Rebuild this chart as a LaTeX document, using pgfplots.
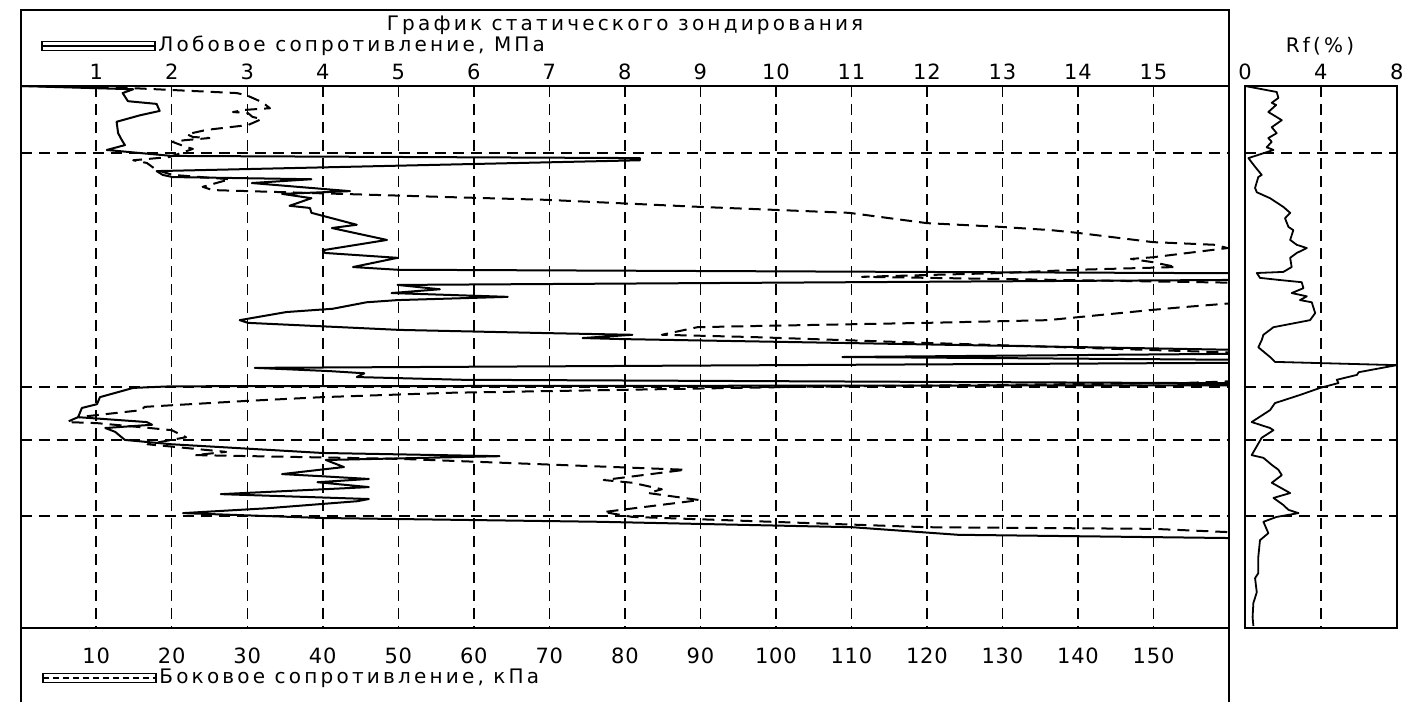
\documentclass[border=0pt]{standalone}
\usepackage{pgfplots}
\usepackage{pgfplotstable}
\pgfplotsset{compat=1.18}
\usepackage{fontspec}
\setmainfont{DejaVu Sans}[LetterSpace=16]
\newfontfamily\tickfont{DejaVu Sans}[LetterSpace=4]

\pgfplotstableread{
q d
0 0
1.49 0.06
1.35 0.13
1.42 0.28
1.80 0.33
1.84 0.46
1.58 0.54
1.27 0.66
1.29 0.87
1.34 1.00
1.38 1.09
1.14 1.18
2.00 1.29
8.20 1.33
8.20 1.37
1.80 1.57
1.88 1.64
2.01 1.68
3.85 1.72
3.06 1.79
4.36 1.94
3.46 1.99
3.85 2.07
3.56 2.21
3.83 2.25
3.85 2.34
4.45 2.56
4.12 2.62
4.85 2.84
4.00 3.03
4.03 3.08
4.99 3.17
4.40 3.34
4.99 3.39
17 3.46
17 3.57
4.99 3.67
5.55 3.75
4.91 3.82
6.45 3.89
4.99 3.95
4.58 3.99
4.13 4.11
3.52 4.17
2.90 4.32
3.01 4.37
5.02 4.50
7.00 4.56
8.10 4.59
7.44 4.65
7.99 4.67
17 4.89
17 4.93
10.88 5.00
17 5.06
17 5.10
3.10 5.20
4.09 5.26
4.55 5.30
4.45 5.37
5.85 5.42
17 5.49
17 5.52
2.00 5.54
1.49 5.57
1.05 5.74
1.01 5.87
0.81 5.94
0.76 6.11
1.67 6.20
1.74 6.25
1.12 6.31
1.25 6.38
1.38 6.53
2.00 6.61
3.99 6.77
6.34 6.83
4.04 6.90
4.28 7.03
3.46 7.16
3.99 7.20
4.61 7.25
3.93 7.31
4.61 7.40
2.65 7.53
4.61 7.62
4.46 7.66
3.27 7.79
2.15 7.88
3.99 7.97
7.66 8.04
11.01 8.14
12.41 8.28
16.00 8.34
}\qc

\pgfplotstableread{
f d
0 0
14.9 0.04
28.6 0.13
29.9 0.17
32.0 0.30
33.0 0.41
29.7 0.44
28.1 0.48
30.1 0.50
30.7 0.57
31.9 0.61
30.1 0.72
24.6 0.81
22.0 0.89
22.8 0.94
25.0 0.96
21.7 1.00
20.1 1.03
22.0 1.13
22.8 1.16
19.7 1.31
14.9 1.37
16.7 1.42
18.0 1.55
20.1 1.64
27.7 1.72
24.1 1.86
25.4 1.92
56.8 2.05
69.6 2.10
89.9 2.23
109.7 2.34
120.0 2.53
129.9 2.60
136.5 2.66
140.0 2.71
149.9 2.88
158.2 2.93
159.8 2.99
149.9 3.16
147.0 3.19
149.9 3.25
153.0 3.34
140.0 3.39
129.9 3.45
111.4 3.52
170 3.65
170 3.90
153.9 4.08
149.9 4.13
136.0 4.32
119.9 4.37
96.5 4.43
89.6 4.45
84.9 4.59
96.5 4.63
120.0 4.74
170 4.96
170 5.40
153.8 5.48
103.1 5.55
56.8 5.66
40.0 5.74
29.9 5.81
20.0 5.89
16.4 5.92
16.0 5.98
7.6 6.11
6.1 6.20
10.1 6.22
17.1 6.31
20.0 6.35
21.9 6.48
16.8 6.61
27.2 6.75
23.1 6.81
50.4 6.88
88.0 7.08
77.2 7.27
81.0 7.32
84.9 7.44
83.1 7.51
89.9 7.64
77.2 7.86
81.0 7.95
119.9 8.14
149.9 8.17
159.8 8.23
}\fs

\pgfplotstableread{
rf d
0 0
1.67 0.11
1.76 0.22
1.41 0.31
1.64 0.35
1.23 0.48
1.94 0.63
1.41 0.76
1.67 0.87
1.23 0.96
1.41 1.03
1.14 1.13
1.50 1.18
0.18 1.33
0.53 1.49
0.88 1.64
0.70 1.68
0.53 1.88
0.62 1.96
1.32 2.07
2.02 2.23
2.38 2.34
2.11 2.44
2.29 2.60
2.55 2.66
2.38 2.84
2.73 2.93
3.26 2.99
2.73 3.08
2.38 3.17
2.46 3.34
2.02 3.43
0.62 3.45
0.79 3.54
1.85 3.58
2.99 3.62
3.08 3.73
2.46 3.82
3.26 3.88
2.90 3.95
3.52 3.99
3.70 4.19
3.43 4.32
1.50 4.45
0.97 4.59
0.88 4.69
0.70 4.82
1.32 5.00
1.58 5.09
8.00 5.15
6.00 5.28
5.90 5.33
4.84 5.42
4.93 5.48
3.96 5.57
2.90 5.70
1.58 5.85
1.32 5.98
0.35 6.20
1.32 6.31
1.50 6.35
0.88 6.49
0.35 6.81
0.97 6.86
1.41 6.99
1.76 7.08
1.94 7.18
1.41 7.32
2.38 7.51
1.50 7.60
2.02 7.73
2.29 7.82
2.82 7.88
1.67 7.95
0.97 8.04
1.23 8.25
0.79 8.38
0.70 8.69
0.70 8.99
0.53 9.08
0.62 9.34
0.44 9.54
0.40 9.80
0.44 9.96
}\rf

\tikzset{
  gridd/.style={black, line width=0.75pt, dash pattern=on 5.5pt off 3.5pt},
  lbl/.style={font=\fontsize{10}{12}\selectfont},
}
\pgfplotsset{
  depthax/.style={
    scale only axis, height=271pt, anchor=south west,
    ymin=0, ymax=10, y dir=reverse, ytick=\empty,
    major tick length=0pt,
    /pgf/number format/assume math mode=true,
    ticklabel style={font=\tickfont\fontsize{10.5}{12}\selectfont, inner sep=0pt},
  },
}

\begin{document}
\begin{tikzpicture}
\useasboundingbox (0pt,0pt) rectangle (701pt,-351pt);

% main axis, MPa
\begin{axis}[depthax,
  at={(10.35pt,-314pt)}, width=604.15pt,
  xmin=0, xmax=16, xtick={1,...,15},
  xticklabel pos=upper,
  xticklabel style={anchor=south, yshift=3pt},
  xmajorgrids, major grid style={gridd},
  axis line style={line width=1.1pt},
]
\foreach \yy in {1.24,5.55,6.53,7.93}{
  \edef\tmp{\noexpand\draw[gridd] (axis cs:0,\yy) -- (axis cs:16,\yy);}\tmp
}
\addplot[black, line width=1pt, line join=round] table[x=q, y=d]{\qc};
\end{axis}

% same frame, kPa
\begin{axis}[depthax,
  at={(10.35pt,-314pt)}, width=604.15pt,
  xmin=0, xmax=160, xtick={10,20,...,150},
  xticklabel pos=lower,
  xticklabel style={anchor=north, yshift=-9.5pt},
  axis line style={draw=none},
]
\addplot[black, line width=1pt, line join=round, dash pattern=on 6pt off 3.5pt] table[x=f, y=d]{\fs};
\end{axis}

% Rf axis
\begin{axis}[depthax,
  at={(622.5pt,-314pt)}, width=75.85pt,
  xmin=0, xmax=8, xtick={0,4,8},
  xticklabel pos=upper,
  xticklabel style={anchor=south, yshift=3pt},
  xmajorgrids, major grid style={gridd},
  axis line style={line width=1.1pt},
]
\foreach \yy in {1.24,5.55,6.53,7.93}{
  \edef\tmp{\noexpand\draw[gridd] (axis cs:0,\yy) -- (axis cs:8,\yy);}\tmp
}
\addplot[black, line width=0.9pt, line join=round] table[x=rf, y=d]{\rf};
\end{axis}

% outer frame
\draw[line width=1.1pt] (10.35pt,-351pt) -- (10.35pt,-5pt) -- (614.5pt,-5pt) -- (614.5pt,-43pt);
\draw[line width=1.1pt] (614.5pt,-314pt) -- (614.5pt,-351pt);

% title and legends
\node[lbl] at (312.5pt,-12.5pt) {График статического зондирования};
\draw[line width=0.6pt] (21pt,-20.75pt) rectangle (77.5pt,-25.25pt);
\draw[line width=0.6pt] (21pt,-23pt) -- (77.5pt,-23pt);
\node[lbl, anchor=west, inner sep=0pt] at (79pt,-23pt) {Лобовое сопротивление, МПа};

\draw[line width=0.6pt] (21.5pt,-336.75pt) rectangle (78pt,-341.25pt);
\draw[line width=0.6pt, dash pattern=on 3pt off 2pt] (21.5pt,-339pt) -- (78pt,-339pt);
\node[lbl, anchor=west, inner sep=0pt] at (79.5pt,-339pt) {Боковое сопротивление, кПа};

\node[lbl] at (660pt,-23pt) {Rf(\%)};
\end{tikzpicture}
\end{document}
